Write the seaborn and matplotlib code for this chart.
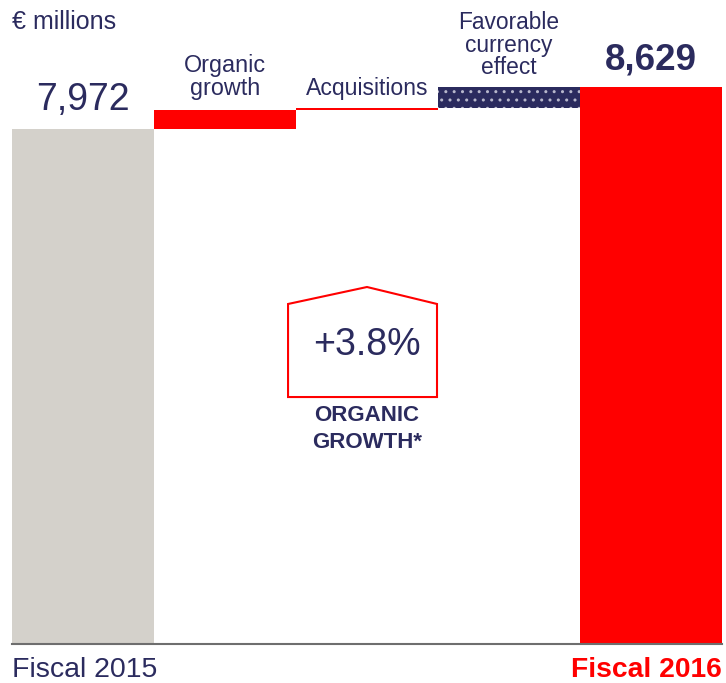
import matplotlib
matplotlib.use("Agg")
import matplotlib.pyplot as plt
from matplotlib.patches import Polygon
import pandas as pd
import seaborn as sns

# Waterfall data (€ millions)
categories = ["Fiscal 2015", "Organic growth", "Acquisitions", "Favorable currency effect", "Fiscal 2016"]
start_value = 7972
steps = [303, 22, 332]
end_value = 8629
organic_pct = "+3.8%"

navy = "#2B2B5E"
red = "#FF0000"
grey = "#D4D1CB"

# cumulative bottoms / tops of each bar
bottoms = [0]
tops = [start_value]
running = start_value
for s in steps:
    bottoms.append(running)
    running += s
    tops.append(running)
bottoms.append(0)
tops.append(end_value)

df = pd.DataFrame({"category": categories, "top": tops, "bottom": bottoms})

sns.set_style("white")
plt.rcParams["font.family"] = ["Liberation Sans", "DejaVu Sans"]

fig = plt.figure(figsize=(7.26, 6.83), dpi=100)
ax = fig.add_axes([12 / 726, 39 / 683, 710 / 726, 644 / 683])

sns.barplot(data=df, x="category", y="top", hue="category",
            palette=[grey, red, red, navy, red], width=1.0,
            legend=False, saturation=1, ax=ax)

# turn the middle bars into floating steps
for i, p in enumerate(ax.patches):
    p.set_linewidth(0)
    if 0 < i < len(categories) - 1:
        p.set_y(df["bottom"][i])
        p.set_height(df["top"][i] - df["bottom"][i])
ax.patches[3].set_edgecolor("#B8B8CC")
ax.patches[3].set_linewidth(0)
ax.patches[3].set_hatch("..")

ax.set_xlim(-0.5, 4.5)
ax.set_ylim(0, 9974)
ax.set_xticks([])
ax.set_yticks([])
ax.set_xlabel("")
ax.set_ylabel("")
for side in ["top", "left", "right"]:
    ax.spines[side].set_visible(False)
ax.spines["bottom"].set_color("#6E6E6E")
ax.spines["bottom"].set_linewidth(1.5)

# labels
ax.text(-0.5, 9633, "€ millions", color=navy, fontsize=18, ha="left", va="center")
ax.text(0, 8425, f"{start_value:,}", color=navy, fontsize=27, ha="center", va="center")
ax.text(1, 8781, "Organic\ngrowth", color=navy, fontsize=16.8, ha="center", va="center",
        linespacing=0.95)
ax.text(2, 8611, "Acquisitions", color=navy, fontsize=16.6, ha="center", va="center")
ax.text(3, 9277, "Favorable\ncurrency\neffect", color=navy, fontsize=16.4, ha="center",
        va="center", linespacing=0.95)
ax.text(4, 9044, f"{end_value:,}", color=navy, fontsize=26.5, fontweight="bold",
        ha="center", va="center")

# house-shaped callout
house = Polygon([(1.444, 3825), (1.444, 5266), (2.0, 5529), (2.493, 5266), (2.493, 3825)],
                closed=True, fill=False, edgecolor=red, linewidth=1.5)
ax.add_patch(house)
ax.text(2, 4631, organic_pct, color=navy, fontsize=27, ha="center", va="center")
ax.text(2, 3330, "ORGANIC\nGROWTH*", color=navy, fontsize=16, fontweight="bold",
        ha="center", va="center", linespacing=1.4)

ax.text(-0.5, -403, categories[0], color=navy, fontsize=20.5, ha="left", va="center", clip_on=False)
ax.text(4.5, -403, categories[-1], color=red, fontsize=20.3, fontweight="bold",
        ha="right", va="center", clip_on=False)

fig.savefig("out.png", dpi=100)
